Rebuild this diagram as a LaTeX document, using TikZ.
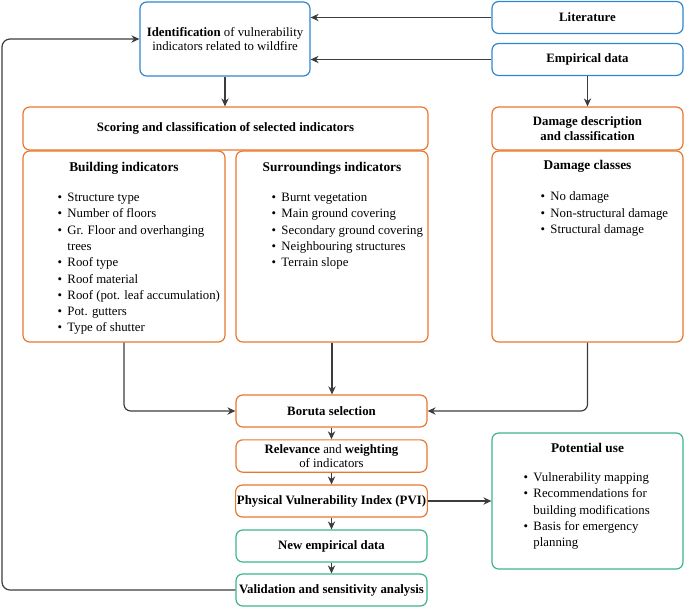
\documentclass[tikz,border=0pt]{standalone}
\usepackage{fontspec}
\setmainfont{Liberation Serif}
\usepackage{xcolor}
\usepackage{tikz}
\usetikzlibrary{positioning}
\usetikzlibrary{calc}
\usetikzlibrary{arrows.meta}
\definecolor{idblue}{HTML}{2E86D1}
\definecolor{scorange}{HTML}{E8772E}
\definecolor{usegreen}{HTML}{3DB48F}
\definecolor{linegray}{HTML}{3C3C3C}
\tikzstyle{bluebox} = [rectangle, rounded corners=5pt, line width=0.9pt, align=center, text centered, draw=idblue]
\tikzstyle{orangebox} = [rectangle, rounded corners=5pt, line width=0.9pt, align=center, text centered, draw=scorange]
\tikzstyle{greenbox} = [rectangle, rounded corners=5pt, line width=0.9pt, align=center, text centered, draw=usegreen]
\tikzstyle{small} = [minimum width=143.25pt, minimum height=24pt, inner xsep=1pt]
\tikzstyle{head} = [font=\bfseries]
\tikzstyle{list} = [inner sep=0pt, anchor=north west, align=left]
\tikzstyle{arrow} = [line width=0.9pt,->,>={Stealth[length=6pt,width=5.5pt]},draw=linegray]
\renewcommand{\arraystretch}{1.13}

\begin{document}
\begin{tikzpicture}[x=0.75pt,y=-0.75pt,node distance=33.75pt,font=\fontsize{9.6}{10.8}\selectfont]
		\useasboundingbox (0,0) rectangle (685,608);
		% top row
		\node (ident) [bluebox, minimum width=127.5pt, minimum height=55.5pt] at (225,39) {\textbf{Identification} of vulnerability\\indicators related to wildfire};
		\node (lit) [bluebox, small] at (587.5,17.5) {\textbf{Literature}};
		\node (emp) [bluebox, small] at (587.5,59.5) {\textbf{Empirical data}};
		% indicators
		\node (score) [orangebox, minimum width=303.75pt, minimum height=32.25pt] at (225.5,128.5) {\textbf{Scoring and classification of selected indicators}};
		\node (build) [orangebox, minimum width=151.5pt, minimum height=143.25pt] at (124,246.5) {};
		\node (surr) [orangebox, minimum width=144pt, minimum height=143.25pt] at (332,246.5) {};
		\node (dmgdesc) [orangebox, minimum width=143.25pt, minimum height=32.25pt] at (587.5,128.5) {\textbf{Damage description}\\\textbf{and classification}};
		\node (dmgcls) [orangebox, minimum width=143.25pt, minimum height=143.25pt] at (587.5,246.5) {};
		\node [head] at ([yshift=-13.5pt]build.north) {Building indicators};
		\node [list] at ([xshift=26.25pt,yshift=-29.7pt]build.north west) {\begin{tabular}{@{}l@{\hspace{4pt}}l@{}}
			\textbullet & Structure type\\
			\textbullet & Number of floors\\
			\textbullet & Gr. Floor and overhanging\\
			 & trees\\
			\textbullet & Roof type\\
			\textbullet & Roof material\\
			\textbullet & Roof (pot. leaf accumulation)\\
			\textbullet & Pot. gutters\\
			\textbullet & Type of shutter
		\end{tabular}};
		\node [head] at ([yshift=-13.5pt]surr.north) {Surroundings indicators};
		\node [list] at ([xshift=27pt,yshift=-29.7pt]surr.north west) {\begin{tabular}{@{}l@{\hspace{4pt}}l@{}}
			\textbullet & Burnt vegetation\\
			\textbullet & Main ground covering\\
			\textbullet & Secondary ground covering\\
			\textbullet & Neighbouring structures\\
			\textbullet & Terrain slope
		\end{tabular}};
		\node [head] at ([yshift=-12pt]dmgcls.north) {Damage classes};
		\node [list] at ([xshift=36.75pt,yshift=-29pt]dmgcls.north west) {\begin{tabular}{@{}l@{\hspace{4pt}}l@{}}
			\textbullet & No damage\\
			\textbullet & Non-structural damage\\
			\textbullet & Structural damage
		\end{tabular}};
		% middle column
		\node (boruta) [orangebox, small] at (331.5,411) {\textbf{Boruta selection}};
		\node (relev) [orangebox, small, below of=boruta] {\textbf{Relevance} and \textbf{weighting}\\of indicators};
		\node (pvi) [orangebox, small, below of=relev] {\textbf{Physical Vulnerability Index (PVI)}};
		\node (newemp) [greenbox, small, below of=pvi] {\textbf{New empirical data}};
		\node (valid) [greenbox, small, below of=newemp, node distance=33pt] {\textbf{Validation and sensitivity analysis}};
		\node (use) [greenbox, minimum width=143.25pt, minimum height=102pt] at (587.5,501) {};
		\node [head] at ([yshift=-12pt]use.north) {Potential use};
		\node [list] at ([xshift=24pt,yshift=-28.2pt]use.north west) {\begin{tabular}{@{}l@{\hspace{4pt}}l@{}}
			\textbullet & Vulnerability mapping\\
			\textbullet & Recommendations for\\
			 & building modifications\\
			\textbullet & Basis for emergency\\
			 & planning
		\end{tabular}};
		\coordinate (back) at (2,0);
		% connectors
		\draw [arrow](lit.west) -- (lit.west -| ident.east);
		\draw [arrow](emp.west) -- (emp.west -| ident.east);
		\draw [arrow](ident.south) -- (ident.south |- score.north);
		\draw [arrow](emp.south) -- (dmgdesc.north);
		\draw [arrow, rounded corners=5pt](build.south) |- (boruta.west);
		\draw [arrow](surr.south) -- (surr.south |- boruta.north);
		\draw [arrow, rounded corners=5pt](dmgcls.south) |- (boruta.east);
		\draw [arrow](boruta) -- (relev);
		\draw [arrow](relev) -- (pvi);
		\draw [arrow](pvi) -- (newemp);
		\draw [arrow](newemp) -- (valid);
		\draw [arrow](pvi.east) -- (pvi.east -| use.west);
		\draw [arrow, rounded corners=6pt](valid.west) -- (valid.west -| back) |- (ident.west);
	\end{tikzpicture}
\end{document}
